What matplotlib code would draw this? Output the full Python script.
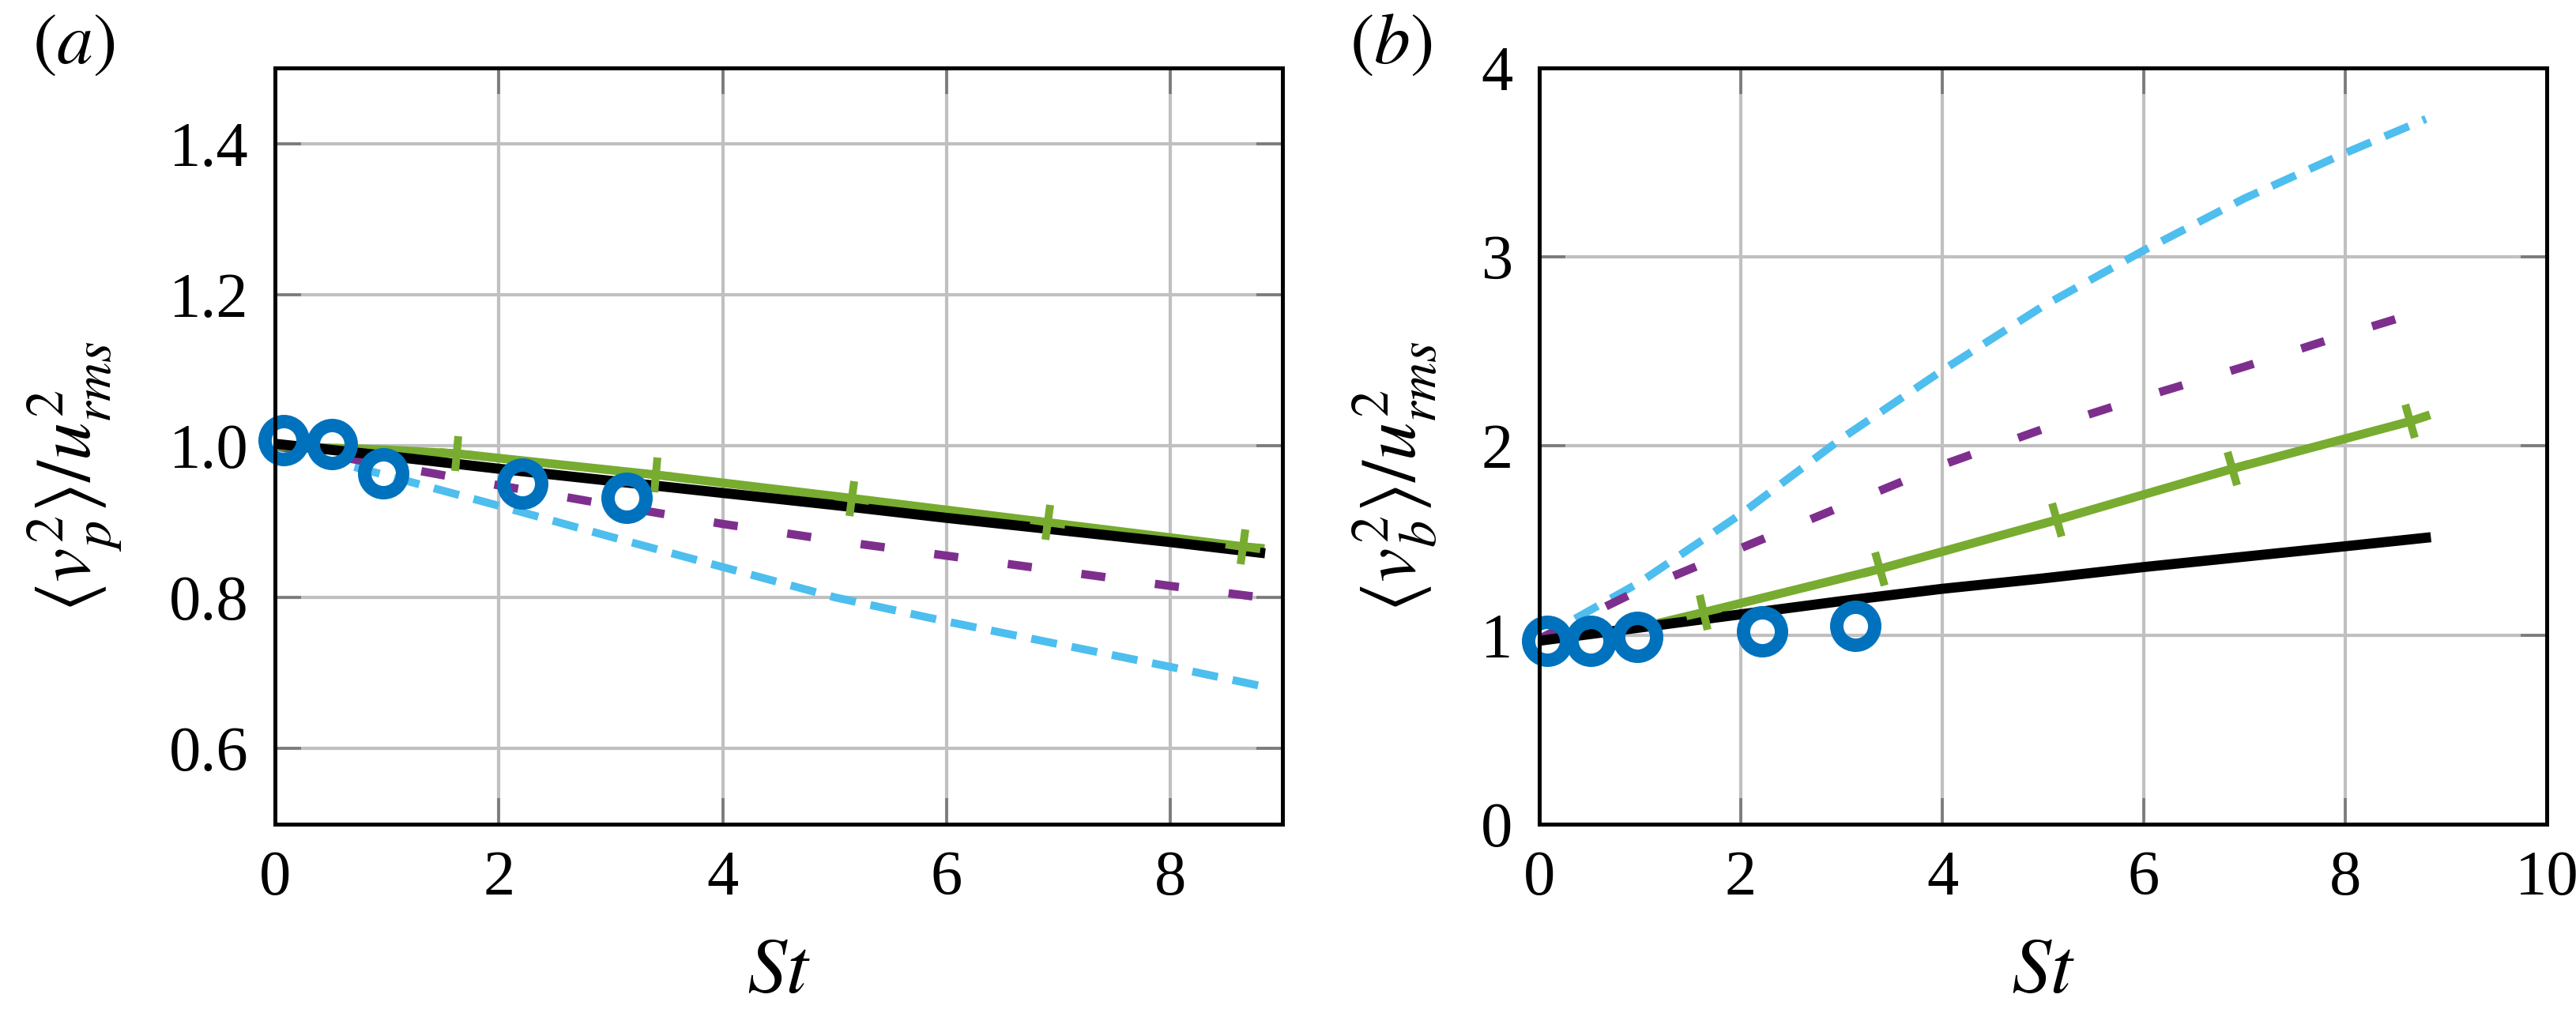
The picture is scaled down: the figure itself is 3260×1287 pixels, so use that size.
import numpy as np
import matplotlib
matplotlib.use("Agg")
import matplotlib.pyplot as plt
from matplotlib.markers import MarkerStyle
from matplotlib.transforms import Affine2D

plt.rcParams['font.family'] = ['Liberation Serif', 'DejaVu Serif']
plt.rcParams['mathtext.fontset'] = 'stix'

# colours (MATLAB defaults)
c_black = 'black'
c_green = '#77ac30'
c_purple = '#7e2f8e'
c_cyan = '#4dbeee'
c_blue = '#0072bd'

# shared St grid for the model curves
st_line = [0, 1, 2, 3, 4, 5, 6, 7, 8, 8.8]

# panel (a): <v_p^2>/u_rms^2
a_black = [1.003, 0.987, 0.970, 0.954, 0.938, 0.922, 0.905, 0.889, 0.873, 0.859]
a_purple = [1.000, 0.975, 0.948, 0.922, 0.897, 0.875, 0.855, 0.835, 0.815, 0.800]
a_cyan = [1.000, 0.961, 0.921, 0.880, 0.840, 0.800, 0.768, 0.738, 0.708, 0.683]
a_green_st = [0, 1.0, 1.62, 3.4, 5.15, 6.9, 8.65, 8.8]
a_green = [1.000, 0.995, 0.990, 0.962, 0.931, 0.899, 0.867, 0.865]

# panel (b): <v_b^2>/u_rms^2
b_black = [0.970, 1.040, 1.110, 1.180, 1.245, 1.300, 1.360, 1.415, 1.470, 1.515]
b_purple = [0.980, 1.240, 1.460, 1.680, 1.900, 2.090, 2.260, 2.420, 2.590, 2.720]
b_cyan = [0.980, 1.280, 1.640, 2.040, 2.400, 2.740, 3.035, 3.310, 3.550, 3.730]
b_green_st = [0, 1.0, 1.63, 3.38, 5.14, 6.88, 8.64, 8.8]
b_green = [0.970, 1.040, 1.120, 1.350, 1.610, 1.880, 2.130, 2.158]

# DNS points
st_dns = [0.08, 0.51, 0.97, 2.21, 3.14]
a_dns = [1.008, 1.003, 0.964, 0.950, 0.932]
b_dns = [0.968, 0.968, 0.990, 1.020, 1.050]

green_marks = [2, 3, 4, 5, 6]

fig = plt.figure(figsize=(16.3, 6.435), dpi=200)
ax_a = fig.add_axes([348 / 3260, 0.1896, 1275 / 3260, 0.7436])
ax_b = fig.add_axes([1948 / 3260, 0.1896, 1275 / 3260, 0.7436])


def style(ax, xlim, ylim, xticks, yticks, yticklabels):
    ax.set_xlim(*xlim)
    ax.set_ylim(*ylim)
    ax.set_xticks(xticks)
    ax.set_yticks(yticks)
    ax.set_yticklabels(yticklabels)
    ax.grid(True, color='#c0c0c0', lw=1.5)
    ax.set_axisbelow(True)
    ax.tick_params(direction='in', length=12, width=1.3, color='#7a7a7a',
                   top=True, right=True, labelsize=29, pad=12, labelcolor='black')
    for s in ax.spines.values():
        s.set_linewidth(1.8)
        s.set_zorder(5)


def draw(ax, black, purple, cyan, green_st, green, dns):
    ax.plot(st_line, cyan, color=c_cyan, lw=3.6, dashes=(3.3, 1.9), zorder=2)
    ax.plot(st_line, purple, color=c_purple, lw=3.8, dashes=(2.9, 6.0), zorder=2)
    ax.plot(green_st, green, color=c_green, lw=4.0, zorder=3)
    ax.plot(st_line, black, color=c_black, lw=4.6, zorder=3)
    # + markers on the green curve, aligned with the local slope
    pts = ax.transData.transform(np.column_stack([green_st, green]))
    for i in green_marks:
        d = pts[min(i + 1, len(pts) - 1)] - pts[i - 1]
        ang = np.degrees(np.arctan2(d[1], d[0]))
        m = MarkerStyle('+', transform=Affine2D().rotate_deg(ang))
        ax.plot([green_st[i]], [green[i]], ls='none', marker=m, ms=16,
                mew=3.6, color=c_green, zorder=3)
    ax.plot(st_dns, dns, ls='none', marker='o', ms=17.3, mew=6.1,
            mfc='none', mec=c_blue, zorder=4, clip_on=False)


style(ax_a, (0, 9), (0.5, 1.5), [0, 2, 4, 6, 8], [0.6, 0.8, 1.0, 1.2, 1.4],
      ['0.6', '0.8', '1.0', '1.2', '1.4'])
style(ax_b, (0, 10), (0, 4), [0, 2, 4, 6, 8, 10], [0, 1, 2, 3, 4],
      ['0', '1', '2', '3', '4'])

draw(ax_a, a_black, a_purple, a_cyan, a_green_st, a_green, a_dns)
draw(ax_b, b_black, b_purple, b_cyan, b_green_st, b_green, b_dns)

ax_a.set_ylabel(r'$\langle v_p^2\rangle/u_{rms}^2$', fontsize=35)
ax_b.set_ylabel(r'$\langle v_b^2\rangle/u_{rms}^2$', fontsize=35)
ax_a.yaxis.set_label_coords(-0.15, 0.46)
ax_b.yaxis.set_label_coords(-0.10, 0.46)
for ax in (ax_a, ax_b):
    ax.set_xlabel(r'$St$', fontsize=36)
    ax.xaxis.set_label_coords(0.5, -0.15)

fig.text(93 / 3260, 1 - 58 / 1287, r'$(a)$', fontsize=33, ha='center', va='center')
fig.text(1760 / 3260, 1 - 58 / 1287, r'$(b)$', fontsize=33, ha='center', va='center')

fig.savefig('out.png', dpi=200)
